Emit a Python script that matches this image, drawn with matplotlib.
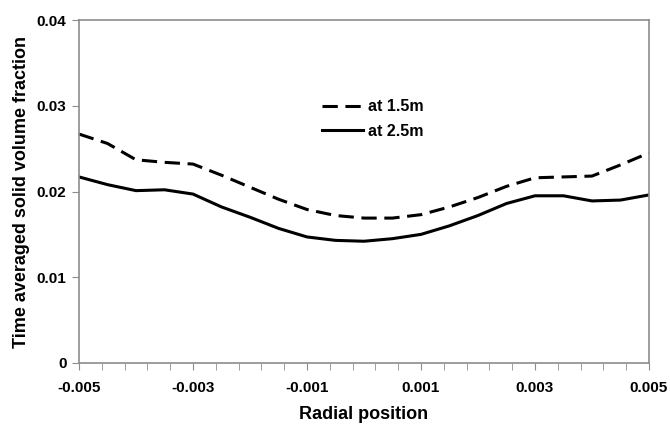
import matplotlib.pyplot as plt
from matplotlib.ticker import FixedLocator

plt.rcParams['font.family'] = ['Liberation Sans', 'DejaVu Sans']
plt.rcParams['font.weight'] = 'bold'

# radial positions
radial = [-0.005, -0.0045, -0.004, -0.0035, -0.003, -0.0025, -0.002, -0.0015, -0.001, -0.0005,
          0.0, 0.0005, 0.001, 0.0015, 0.002, 0.0025, 0.003, 0.0035, 0.004, 0.0045, 0.005]

# time averaged solid volume fraction
at_15m = [0.0267, 0.0256, 0.0237, 0.0234, 0.0232, 0.0219, 0.0205, 0.0191, 0.0179, 0.0172,
          0.0169, 0.0169, 0.0173, 0.0182, 0.0193, 0.0206, 0.0216, 0.0217, 0.0218, 0.0231, 0.0245]
at_25m = [0.0217, 0.0208, 0.0201, 0.0202, 0.0197, 0.0182, 0.0170, 0.0157, 0.0147, 0.0143,
          0.0142, 0.0145, 0.0150, 0.0160, 0.0172, 0.0186, 0.0195, 0.0195, 0.0189, 0.0190, 0.0196]

xticks = [-0.005, -0.003, -0.001, 0.001, 0.003, 0.005]
xtick_labels = ['-0.005', '-0.003', '-0.001', '0.001', '0.003', '0.005']
yticks = [0, 0.01, 0.02, 0.03, 0.04]
ytick_labels = ['0', '0.01', '0.02', '0.03', '0.04']

fig = plt.figure(figsize=(6.7, 4.25), dpi=100)
ax = fig.add_axes([79/670, 1 - 363/425, 570/670, 343/425])

ax.plot(radial, at_15m, color='black', linewidth=2.2, dashes=(5, 2.5), label='at 1.5m')
ax.plot(radial, at_25m, color='black', linewidth=2.2, label='at 2.5m')

ax.set_xlim(-0.005, 0.005)
ax.set_ylim(0, 0.04)
ax.set_xticks(xticks)
ax.set_xticklabels(xtick_labels)
# small ticks every 0.0004 like the original
ax.xaxis.set_minor_locator(FixedLocator([-0.005 + i * 0.0004 for i in range(26)]))
ax.set_yticks(yticks)
ax.set_yticklabels(ytick_labels)

for s in ax.spines.values():
    s.set_color('#8c8c8c')
    s.set_linewidth(1.2)
ax.tick_params(axis='both', which='both', direction='out', color='#8c8c8c', labelsize=11)
ax.tick_params(axis='x', which='major', length=5, pad=8)
ax.tick_params(axis='x', which='minor', length=5)
ax.tick_params(axis='y', length=5, pad=4)

ax.set_xlabel('Radial position', fontsize=13, fontweight='bold', labelpad=8)
ax.set_ylabel('Time averaged solid volume fraction', fontsize=13, fontweight='bold', labelpad=5)

leg = ax.legend(loc='upper left', bbox_to_anchor=(0.415, 0.787), frameon=False, fontsize=11.5,
                handlelength=2.6, handletextpad=0.3, labelspacing=0.6, borderaxespad=0)

fig.savefig('out.png', dpi=100)
